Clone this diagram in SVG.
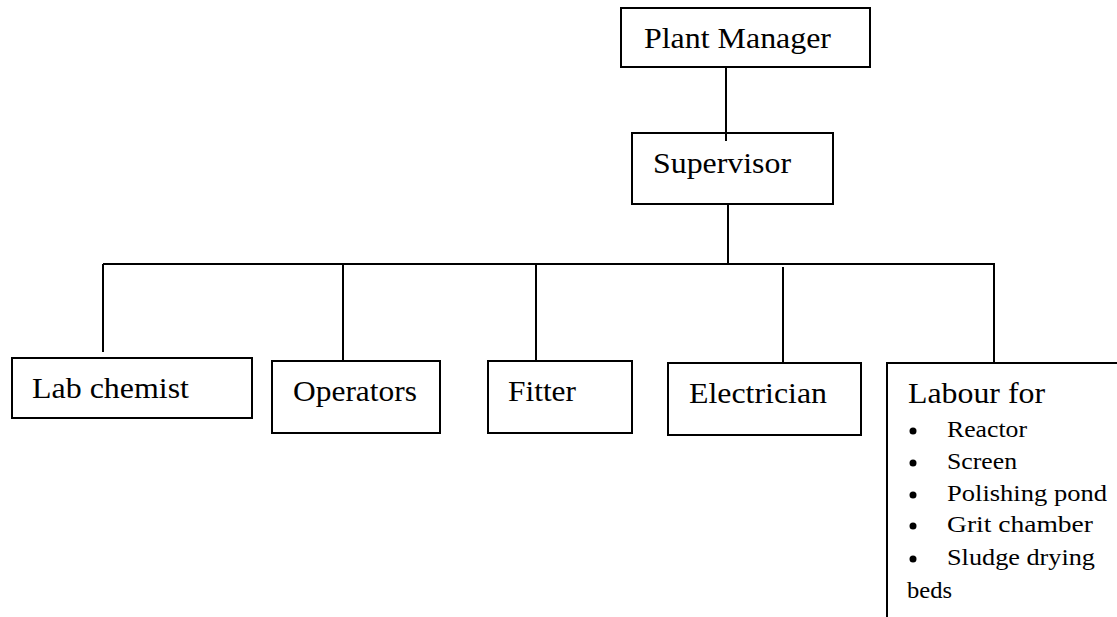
<svg xmlns="http://www.w3.org/2000/svg" width="1117" height="617" viewBox="0 0 1117 617">
<style>
.box{fill:#fff;stroke:#000;stroke-width:2}
.ln{fill:none;stroke:#000;stroke-width:2}
.t{font-family:"Liberation Serif","Times New Roman",serif;font-size:29px;fill:#000}
.s{font-family:"Liberation Serif","Times New Roman",serif;font-size:23px;fill:#000}
</style>
<rect width="1117" height="617" fill="#fff"/>
<g id="connectors">
<line class="ln" x1="726" y1="67" x2="726" y2="141"/>
<line class="ln" x1="728" y1="204" x2="728" y2="265"/>
<line class="ln" x1="103" y1="264" x2="995" y2="264"/>
<line class="ln" x1="103" y1="264" x2="103" y2="352"/>
<line class="ln" x1="343" y1="264" x2="343" y2="361"/>
<line class="ln" x1="536" y1="264" x2="536" y2="361"/>
<line class="ln" x1="783" y1="267" x2="783" y2="363"/>
<line class="ln" x1="994" y1="264" x2="994" y2="363"/>
</g>
<g id="plant-manager">
<rect class="box" x="621" y="8" width="249" height="59"/>
<text class="t" x="644" y="48" textLength="187" lengthAdjust="spacingAndGlyphs">Plant Manager</text>
</g>
<g id="supervisor">
<rect class="box" x="632" y="133" width="201" height="71"/>
<line class="ln" x1="726" y1="133" x2="726" y2="141"/>
<text class="t" x="653" y="173" textLength="138" lengthAdjust="spacingAndGlyphs">Supervisor</text>
</g>
<g id="lab-chemist">
<rect class="box" x="12" y="358" width="240" height="60"/>
<text class="t" x="32" y="398" textLength="157" lengthAdjust="spacingAndGlyphs">Lab chemist</text>
</g>
<g id="operators">
<rect class="box" x="272" y="361" width="168" height="72"/>
<text class="t" x="293" y="401" textLength="124" lengthAdjust="spacingAndGlyphs">Operators</text>
</g>
<g id="fitter">
<rect class="box" x="488" y="361" width="144" height="72"/>
<text class="t" x="508" y="401" textLength="68" lengthAdjust="spacingAndGlyphs">Fitter</text>
</g>
<g id="electrician">
<rect class="box" x="668" y="363" width="193" height="72"/>
<text class="t" x="689" y="403" textLength="138" lengthAdjust="spacingAndGlyphs">Electrician</text>
</g>
<g id="labour">
<path class="ln" d="M887,617 V363 H1117"/>
<text class="t" x="908" y="403" textLength="137" lengthAdjust="spacingAndGlyphs">Labour for</text>
<circle cx="913" cy="431" r="3.5"/>
<text class="s" x="947" y="437" textLength="80" lengthAdjust="spacingAndGlyphs">Reactor</text>
<circle cx="913" cy="463" r="3.5"/>
<text class="s" x="947" y="469" textLength="70" lengthAdjust="spacingAndGlyphs">Screen</text>
<circle cx="913" cy="495" r="3.5"/>
<text class="s" x="947" y="501" textLength="160" lengthAdjust="spacingAndGlyphs">Polishing pond</text>
<circle cx="913" cy="526" r="3.5"/>
<text class="s" x="947" y="532" textLength="146" lengthAdjust="spacingAndGlyphs">Grit chamber</text>
<circle cx="913" cy="559" r="3.5"/>
<text class="s" x="947" y="565" textLength="148" lengthAdjust="spacingAndGlyphs">Sludge drying</text>
<text class="s" x="907" y="598" textLength="45" lengthAdjust="spacingAndGlyphs">beds</text>
</g>
</svg>
